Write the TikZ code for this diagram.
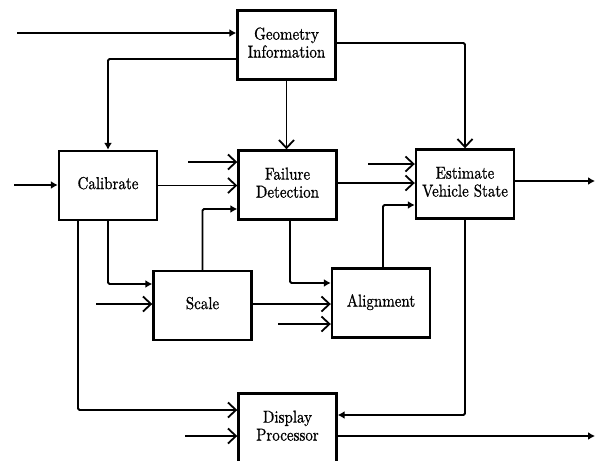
\documentclass[tikz,border=0pt]{standalone}
\usepackage{fontspec}
\newfontfamily\boxfont{lmroman10-regular.otf}[FakeBold=0.9]
\usetikzlibrary{arrows.meta}
\newcommand{\tx}[1]{\scalebox{1}[1.15]{\boxfont\fontsize{15}{15.6}\selectfont\begin{tabular}{@{}c@{}}#1\end{tabular}}}
\begin{document}
\begin{tikzpicture}[x=1pt,y=-1pt,
  box/.style={draw,line width=2.4pt,minimum width=98pt,minimum height=69pt,inner sep=0pt},
  conn/.style={line width=1.8pt,rounded corners=1.5pt},
  open/.style={conn,-{Straight Barb[length=8pt,width=15pt,line width=1.8pt]}},
  fil/.style={conn,-{Latex[length=7pt,width=8pt]}}]
\useasboundingbox (0,0) rectangle (598,461);
% boxes
\node[box] (geo) at (286.5,45) {\tx{Geometry\\Information}};
\node[box] (cal) at (108,185.5) {\tx{Calibrate}};
\node[box] (fd) at (287.5,185) {\tx{Failure\\Detection}};
\node[box] (est) at (465,184) {\tx{Estimate\\Vehicle State}};
\node[box] (sc) at (202.5,305.5) {\tx{Scale}};
\node[box] (al) at (381,303) {\tx{Alignment}};
\node[box] (disp) at (287.5,428) {\tx{Display\\Processor}};
% helper coordinates
\coordinate (iG) at (17,33);
\coordinate (gc) at (0,59);
\coordinate (ge) at (0,43);
\coordinate (iC) at (14,185);
\coordinate (iF) at (188,162);
\coordinate (sf) at (203,209);
\coordinate (cs) at (108,284);
\coordinate (iS) at (96,304);
\coordinate (cd) at (78,410);
\coordinate (iD) at (185,436);
\coordinate (fa) at (290,283);
\coordinate (iA) at (278,324);
\coordinate (ae) at (383,205);
\coordinate (fe) at (0,183);
\coordinate (iE) at (368,164);
\coordinate (oE) at (595,181);
\coordinate (ed) at (0,415);
\coordinate (oD) at (595,436);
% connectors
\draw[fil] (iG) -- (iG -| geo.west);
\draw[fil] (geo.west |- gc) -| (cal.north);
\draw[open] (geo.south) -- (geo.south |- fd.north);
\draw[open] (geo.east |- ge) -| (est.north);
\draw[fil] (iC) -- (iC -| cal.west);
\draw[open] (cal.east) -- (cal.east -| fd.west);
\draw[open] (iF) -- (iF -| fd.west);
\draw[fil] (sc.north) |- (sf -| fd.west);
\draw[fil] (cal.south) |- (cs -| sc.west);
\draw[open] (iS) -- (iS -| sc.west);
\draw[open] (cal.south -| cd) |- (cd -| disp.west);
\draw[open] (iD) -- (iD -| disp.west);
\draw[open] (sc.east |- iS) -- (iS -| al.west);
\draw[fil] (fd.south -| fa) |- (fa -| al.west);
\draw[open] (iA) -- (iA -| al.west);
\draw[fil] (al.north -| ae) |- (ae -| est.west);
\draw[open] (fd.east |- fe) -- (fe -| est.west);
\draw[open] (iE) -- (iE -| est.west);
\draw[fil] (est.east |- oE) -- (oE);
\draw[fil] (est.south) |- (ed -| disp.east);
\draw[fil] (disp.east |- oD) -- (oD);
\end{tikzpicture}
\end{document}
